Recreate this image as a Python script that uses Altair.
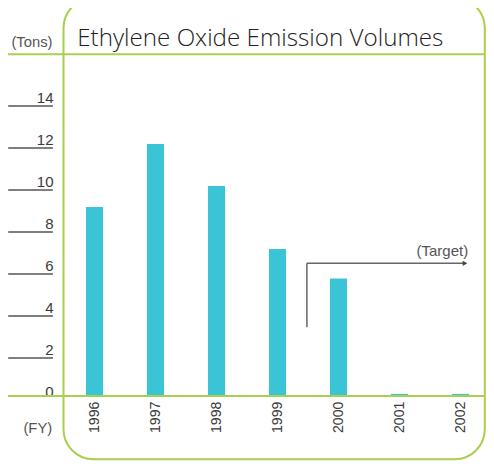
import altair as alt
import pandas as pd

years = ["1996", "1997", "1998", "1999", "2000", "2001", "2002"]
emissions = [9, 12, 10, 7, 5.6, 0.1, 0.1]
y_ticks = [0, 2, 4, 6, 8, 10, 12, 14]
underline_ticks = [2, 4, 6, 8, 10, 12, 14]

GREEN = "#a8d04c"
CYAN = "#3bc3d6"
GRAY = "#3a3a3a"
LFONT = "Liberation Sans"
TFONT = "Open Sans"

bars_df = pd.DataFrame({"year": years, "v": emissions})
ticks_df = pd.DataFrame({"v": underline_ticks})
one = pd.DataFrame({"a": [0]})

x_enc = alt.X(
    "year:N",
    sort=years,
    scale=alt.Scale(paddingInner=0.72, paddingOuter=0.36, range=[0, 427]),
    axis=alt.Axis(
        title=None, domain=False, ticks=False, labelAngle=270,
        labelAlign="right", labelBaseline="middle", labelPadding=5,
        labelFont=LFONT, labelFontSize=14.2, labelColor=GRAY,
    ),
)
y_axis = alt.Axis(
    title=None, domain=False, ticks=False, grid=False, values=y_ticks,
    labelAlign="right", labelBaseline="alphabetic", labelPadding=11,
    labelFont=LFONT, labelFontSize=15, labelColor=GRAY,
)
y_scale = alt.Scale(domain=[0, 14], nice=False)

bars = alt.Chart(bars_df).mark_bar(color=CYAN).encode(
    x=x_enc,
    y=alt.Y("v:Q", scale=y_scale, axis=y_axis),
)

underlines = alt.Chart(ticks_df).mark_rule(color="#555555", strokeWidth=1.3, yOffset=4).encode(
    y=alt.Y("v:Q", scale=y_scale, axis=y_axis),
    x=alt.value(-55.8),
    x2=alt.value(-11.1),
)

frame = alt.Chart(one).mark_rect(
    cornerRadius=30, stroke=GREEN, strokeWidth=2, fillOpacity=0
).encode(
    x=alt.value(-0.5), x2=alt.value(420.8), y=alt.value(-104), y2=alt.value(357.3)
)

top_line = alt.Chart(one).mark_rule(color=GREEN, strokeWidth=2).encode(
    x=alt.value(-56), x2=alt.value(420.8), y=alt.value(-47.7)
)
base_line = alt.Chart(one).mark_rule(color=GREEN, strokeWidth=2).encode(
    x=alt.value(-56), x2=alt.value(420.8), y=alt.value(294)
)

title = alt.Chart(one).mark_text(
    text="Ethylene Oxide Emission Volumes", font=TFONT, fontWeight=300, fontSize=24.2,
    color="#222222", align="left", baseline="alphabetic"
).encode(x=alt.value(13.2), y=alt.value(-56.3))

tons = alt.Chart(one).mark_text(
    text="(Tons)", font=LFONT, fontSize=14.8, color="#555555",
    align="right", baseline="alphabetic"
).encode(x=alt.value(-11.5), y=alt.value(-55.5))

fy = alt.Chart(one).mark_text(
    text="(FY)", font=LFONT, fontSize=14.8, color="#555555",
    align="right", baseline="middle"
).encode(x=alt.value(-11.8), y=alt.value(327))

arrow_v = alt.Chart(one).mark_rule(color="#666666", strokeWidth=1.5).encode(
    x=alt.value(242.9), y=alt.value(161.3), y2=alt.value(225.3)
)
arrow_h = alt.Chart(one).mark_rule(color="#666666", strokeWidth=1.5).encode(
    x=alt.value(242.9), x2=alt.value(401), y=alt.value(161.3)
)
arrow_head = alt.Chart(one).mark_point(
    shape="triangle-right", filled=True, color="#444444", size=28, opacity=1
).encode(x=alt.value(401), y=alt.value(161.3))

target = alt.Chart(one).mark_text(
    text="(Target)", font=LFONT, fontSize=15, color="#555555",
    align="right", baseline="alphabetic"
).encode(x=alt.value(404.2), y=alt.value(154))

chart = alt.layer(
    frame, bars, underlines, top_line, base_line, title, tons, fy,
    arrow_v, arrow_h, arrow_head, target
).properties(
    width=422, height=294,
    autosize=alt.AutoSizeParams(type="none"),
    padding={"left": 56, "top": 94, "right": 0, "bottom": 68},
).configure_view(stroke=None)

chart.save("out.html", embed_options={"renderer": "svg", "actions": False})
